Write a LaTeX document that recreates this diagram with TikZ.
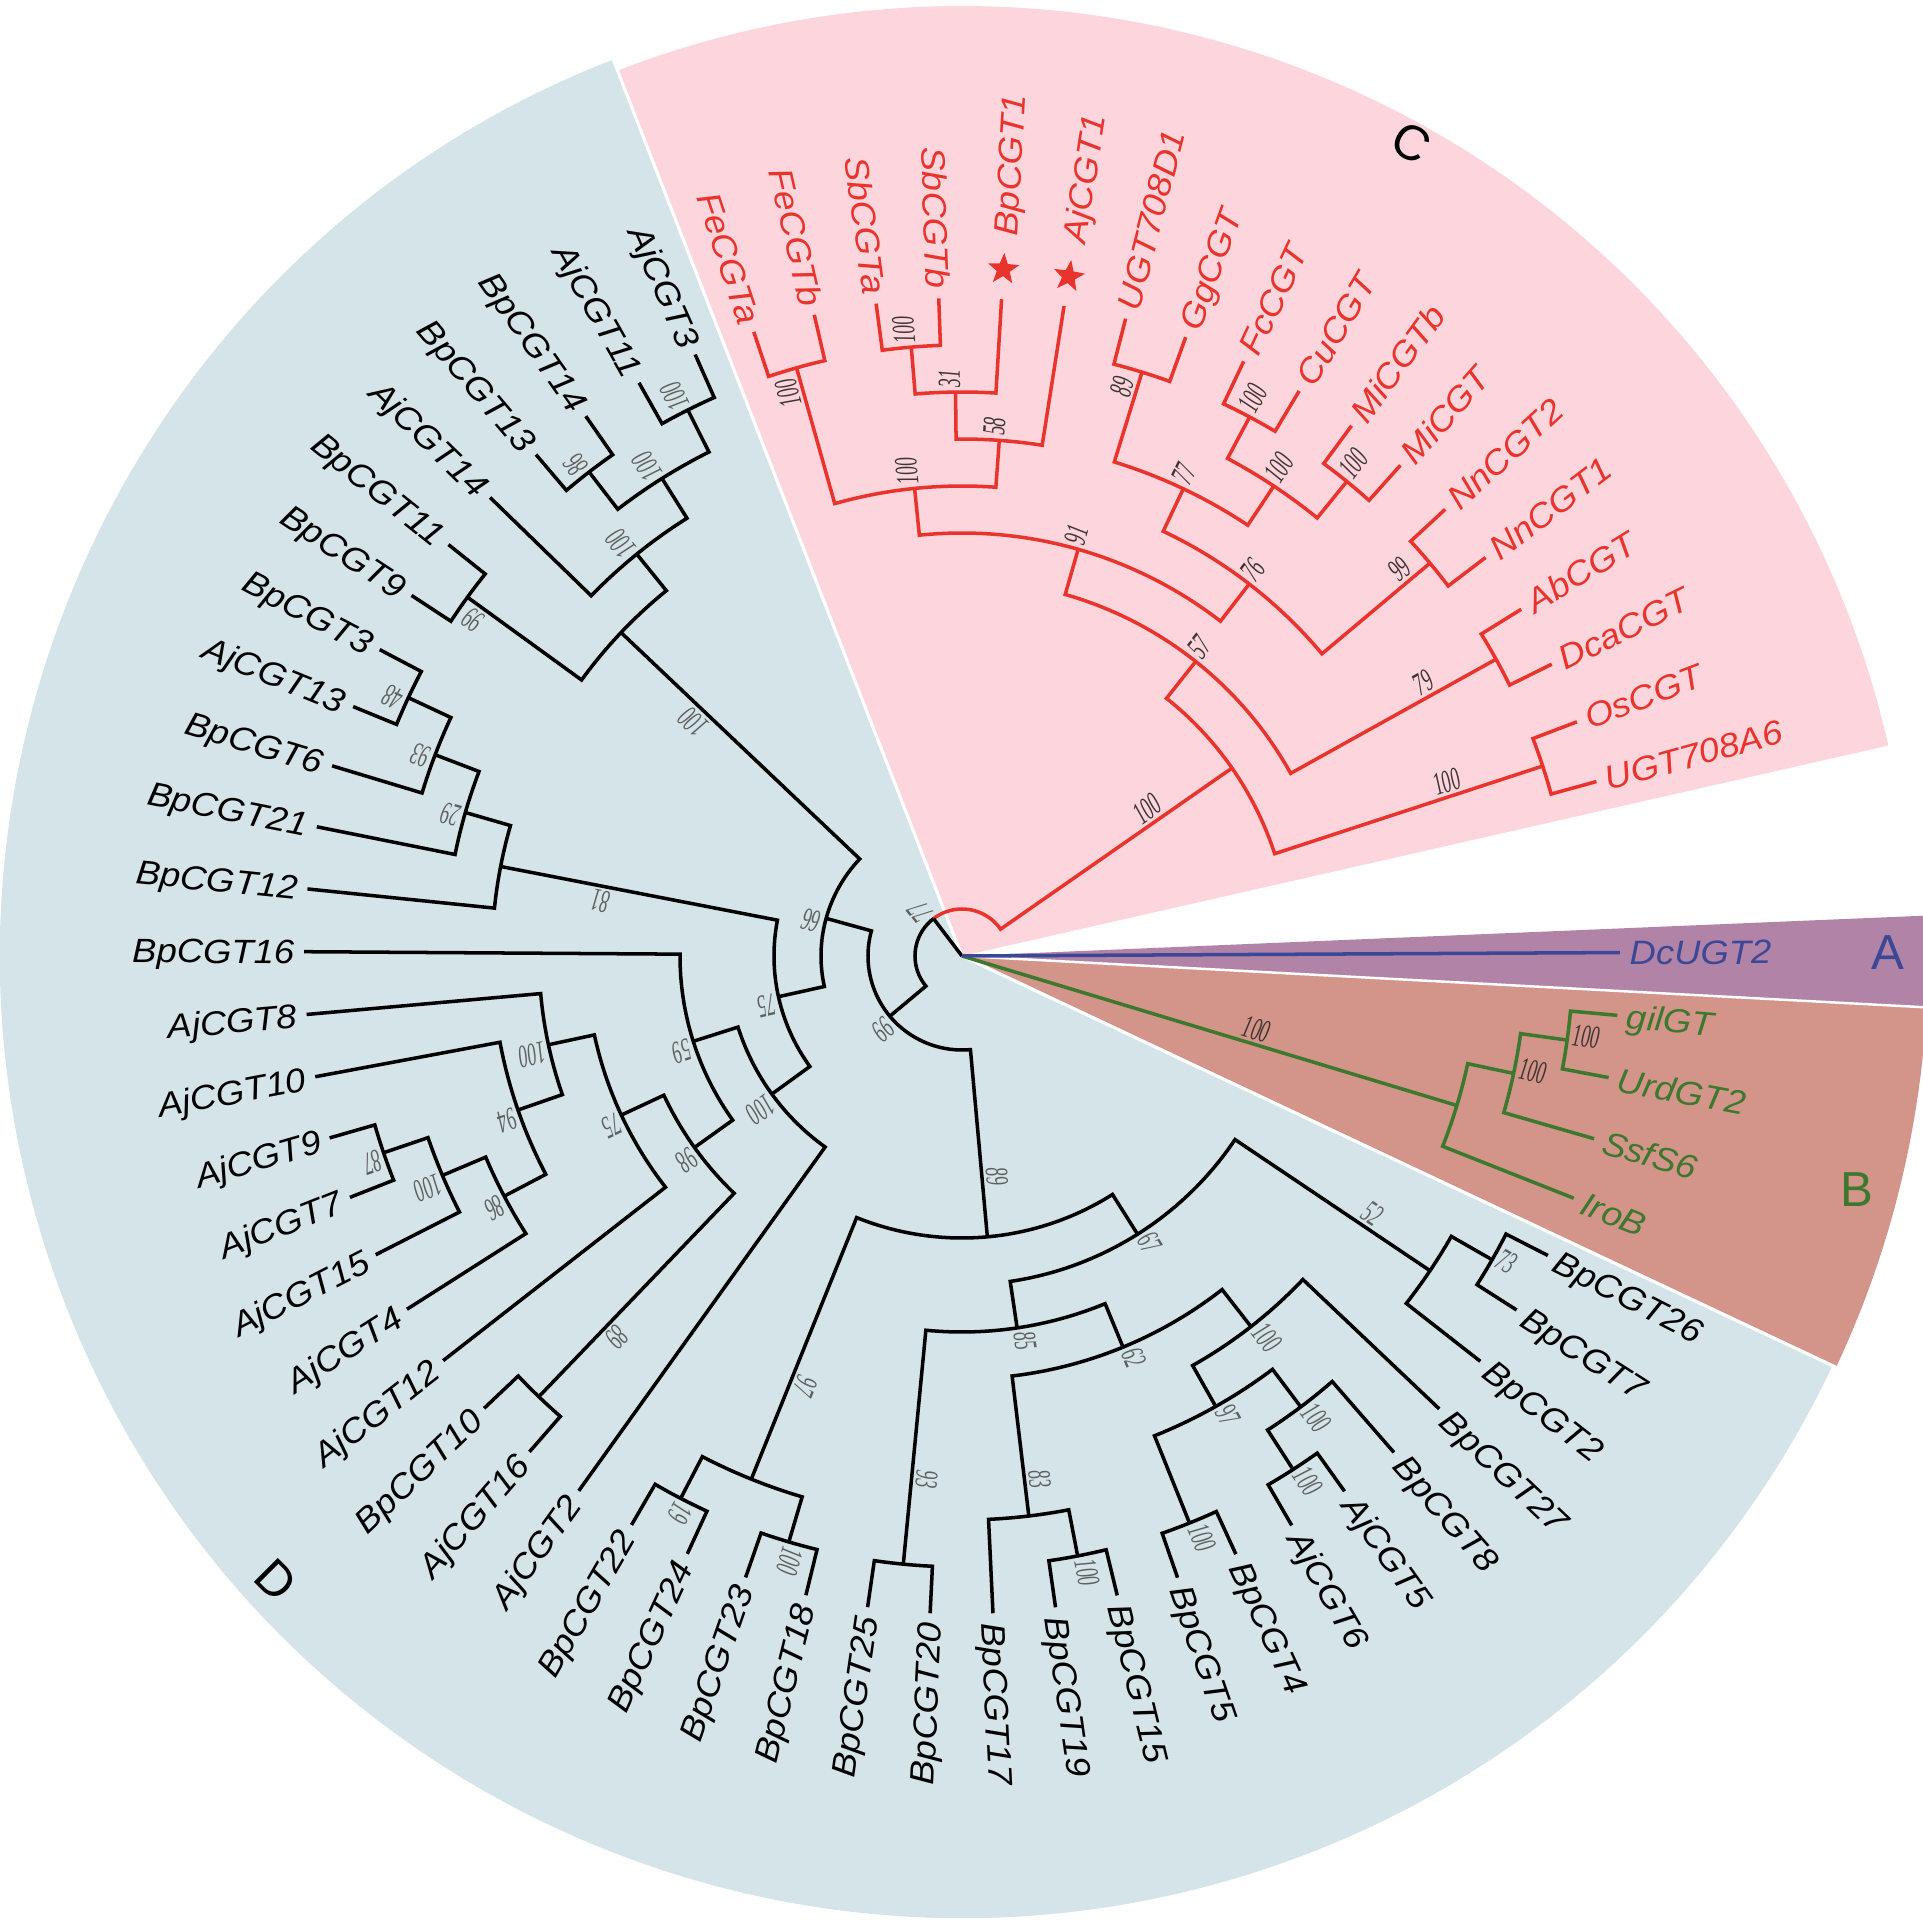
\documentclass[tikz,border=0pt]{standalone}
\usepackage{fontspec}
\setmainfont{Liberation Serif}
\setsansfont{Liberation Sans}
\usepackage{graphicx}
\usetikzlibrary{shapes.geometric}
\definecolor{bgD}{RGB}{213,228,232}
\definecolor{bgC}{RGB}{253,213,220}
\definecolor{bgA}{RGB}{177,131,166}
\definecolor{bgB}{RGB}{211,148,137}
\definecolor{cRed}{RGB}{232,52,44}
\definecolor{cBlue}{RGB}{58,72,150}
\definecolor{cGreen}{RGB}{60,120,45}
\definecolor{bootC}{RGB}{60,52,52}
\definecolor{bootD}{RGB}{95,95,95}
% leaf: name, index
\newcommand\leaf[2]{%
  \pgfmathsetmacro\qa{0.3-5.475*#2}%
  \expandafter\xdef\csname ang:#1\endcsname{\qa}%
  \expandafter\xdef\csname rad:#1\endcsname{6.58}%
  \coordinate (#1) at (\qa:6.58);}
% internal node: name, child1, child2, height, style
\newcommand\inode[5]{%
  \pgfmathsetmacro\qa{\csname ang:#2\endcsname}%
  \pgfmathsetmacro\qb{\csname ang:#3\endcsname}%
  \pgfmathsetmacro\qm{(\qa+\qb)/2}%
  \pgfmathsetmacro\qr{6.58-0.47*#4}%
  \expandafter\xdef\csname ang:#1\endcsname{\qm}%
  \expandafter\xdef\csname rad:#1\endcsname{\qr}%
  \coordinate (#1) at (\qm:\qr);%
  \coordinate (#1-a) at (\qa:\qr);%
  \coordinate (#1-b) at (\qb:\qr);%
  \draw[#5] (#2) -- (#1-a) arc[start angle=\qa, end angle=\qb, radius=\qr] -- (#3);}
% leaf label
\newcommand\lab[2][black]{%
  \pgfmathsetmacro\qa{\csname ang:#2\endcsname}%
  \pgfmathsetmacro\qn{mod(\qa+720,360)}%
  \pgfmathtruncatemacro\qleft{(\qn>90 && \qn<270) ? 1 : 0}%
  \ifnum\qleft=1
    \node[leaflab, text=#1, rotate=\qn-180, anchor=east] (L-#2) at (\qa:6.67) {\scalebox{1.08}[1]{#2}};%
  \else
    \node[leaflab, text=#1, rotate=\qn, anchor=west] (L-#2) at (\qa:6.67) {\scalebox{1.08}[1]{#2}};%
  \fi}
\newcommand\labstar[1]{%
  \pgfmathsetmacro\qa{\csname ang:#1\endcsname}%
  \node[star, star points=5, star point ratio=2.4, fill=cRed, inner sep=0pt, minimum size=0.33cm, rotate=\qa-90] (S-#1) at (\qa:6.88) {};%
  \node[leaflab, text=cRed, rotate=\qa, anchor=west] (L-#1) at (\qa:7.21) {\scalebox{1.08}[1]{#1}};}
% bootstrap outside node
\newcommand\bout[3][bootD]{%
  \pgfmathsetmacro\qa{\csname ang:#2\endcsname}%
  \pgfmathsetmacro\qr{\csname rad:#2\endcsname+0.04}%
  \path (\qa:\qr) ++(\qa+90:0.06) node[boot, text=#1, rotate=\qa, anchor=west] (bs-#2) {\scalebox{0.55}[1]{#3}};}
% bootstrap on branch
\newcommand\bbr[4][bootD]{%
  \pgfmathsetmacro\qa{\csname ang:#2\endcsname}%
  \path (\qa:#4) ++(\qa+90:0.15) node[boot, text=#1, rotate=\qa] (bs-#2) {\scalebox{0.55}[1]{#3}};}
\begin{document}
\begin{tikzpicture}[
 brD/.style={draw=black, line width=1pt},
 brC/.style={draw=cRed, line width=1pt},
 brG/.style={draw=cGreen, line width=1pt},
 brA/.style={draw=cBlue, line width=1pt},
 leaflab/.style={inner sep=0pt, text height=6.9pt, text depth=0pt, font=\fontsize{9.6}{11}\selectfont\sffamily\itshape},
 boot/.style={inner sep=0pt, text height=6pt, text depth=0pt, font=\fontsize{9.2}{10}\selectfont\itshape},
 clade/.style={font=\fontsize{14}{16}\selectfont\sffamily, inner sep=0pt}]
\useasboundingbox (-9.62,-9.66) rectangle (9.60,9.56);
\fill[white] (-9.62,-9.66) rectangle (9.60,9.56);
% sectors
\fill[bgD] (0,0) -- (111.26:9.62) arc[start angle=111.26, end angle=334.8, radius=9.62] -- cycle;
\fill[bgC] (0,0) -- (12.8:9.5) arc[start angle=12.8, end angle=111.26, radius=9.5] -- cycle;
\fill[bgA] (0,0) -- (-3.05:10) arc[start angle=-3.05, end angle=2.4, radius=10] -- cycle;
\fill[bgB] (0,0) -- (-25.2:9.66) arc[start angle=-25.2, end angle=-3.05, radius=9.66] -- cycle;
\draw[white, line width=0.9pt] (0,0) -- (111.26:9.7);
\draw[white, line width=0.9pt] (0,0) -- (-25.2:9.7);
\draw[white, line width=0.7pt] (0,0) -- (-3.05:10);
\node[clade, text=cBlue] (labA) at (0.2:9.26) {A};
\node[clade, text=cGreen] (labB) at (-14.6:9.25) {B};
\node[clade, rotate=-30] (labC) at (61.05:9.29) {C};
\node[clade, rotate=-45] (labD) at (222.3:9.28) {D};
% leaves
\coordinate (root) at (0,0);
\leaf{DcUGT2}{0}
\leaf{gilGT}{1}\leaf{UrdGT2}{2}\leaf{SsfS6}{3}\leaf{IroB}{4}
\leaf{BpCGT26}{5}\leaf{BpCGT7}{6}\leaf{BpCGT2}{7}\leaf{BpCGT27}{8}\leaf{BpCGT8}{9}
\leaf{AjCGT5}{10}\leaf{AjCGT6}{11}\leaf{BpCGT4}{12}\leaf{BpCGT5}{13}\leaf{BpCGT15}{14}
\leaf{BpCGT19}{15}\leaf{BpCGT17}{16}\leaf{BpCGT20}{17}\leaf{BpCGT25}{18}\leaf{BpCGT18}{19}
\leaf{BpCGT23}{20}\leaf{BpCGT24}{21}\leaf{BpCGT22}{22}\leaf{AjCGT2}{23}\leaf{AjCGT16}{24}
\leaf{BpCGT10}{25}\leaf{AjCGT12}{26}\leaf{AjCGT4}{27}\leaf{AjCGT15}{28}\leaf{AjCGT7}{29}
\leaf{AjCGT9}{30}\leaf{AjCGT10}{31}\leaf{AjCGT8}{32}\leaf{BpCGT16}{33}\leaf{BpCGT12}{34}
\leaf{BpCGT21}{35}\leaf{BpCGT6}{36}\leaf{AjCGT13}{37}\leaf{BpCGT3}{38}\leaf{BpCGT9}{39}
\leaf{BpCGT11}{40}\leaf{AjCGT14}{41}\leaf{BpCGT13}{42}\leaf{BpCGT14}{43}\leaf{AjCGT11}{44}
\leaf{AjCGT3}{45}
\leaf{FeCGTa}{46}\leaf{FeCGTb}{47}\leaf{SbCGTa}{48}\leaf{SbCGTb}{49}\leaf{BpCGT1}{50}
\leaf{AjCGT1}{51}\leaf{UGT708D1}{52}\leaf{GgCGT}{53}\leaf{FcCGT}{54}\leaf{CuCGT}{55}
\leaf{MiCGTb}{56}\leaf{MiCGT}{57}\leaf{NnCGT2}{58}\leaf{NnCGT1}{59}\leaf{AbCGT}{60}
\leaf{DcaCGT}{61}\leaf{OsCGT}{62}\leaf{UGT708A6}{63}
% clade B
\inode{B2}{gilGT}{UrdGT2}{1}{brG}
\inode{B1}{B2}{SsfS6}{2}{brG}
\inode{B0}{B1}{IroB}{3}{brG}
% clade C
\inode{cFe}{FeCGTa}{FeCGTb}{1}{brC}
\inode{cSb}{SbCGTa}{SbCGTb}{1}{brC}
\inode{c31}{cSb}{BpCGT1}{2}{brC}
\inode{c58}{c31}{AjCGT1}{3}{brC}
\inode{c100a}{cFe}{c58}{4}{brC}
\inode{c89}{UGT708D1}{GgCGT}{1}{brC}
\inode{cFc}{FcCGT}{CuCGT}{1}{brC}
\inode{cMi}{MiCGTb}{MiCGT}{1}{brC}
\inode{cFM}{cFc}{cMi}{2}{brC}
\inode{c77}{c89}{cFM}{3}{brC}
\inode{cNn}{NnCGT2}{NnCGT1}{1}{brC}
\inode{c76}{c77}{cNn}{4}{brC}
\inode{c91}{c100a}{c76}{5}{brC}
\inode{cAb}{AbCGT}{DcaCGT}{1}{brC}
\inode{c57}{c91}{cAb}{6}{brC}
\inode{cOs}{OsCGT}{UGT708A6}{1}{brC}
\inode{cRoot}{c57}{cOs}{7}{brC}
% clade D
\inode{dA}{AjCGT11}{AjCGT3}{1}{brD}
\inode{dB}{BpCGT13}{BpCGT14}{1}{brD}
\inode{dC}{dA}{dB}{2}{brD}
\inode{dD}{dC}{AjCGT14}{3}{brD}
\inode{dE}{BpCGT11}{BpCGT9}{1}{brD}
\inode{dF}{dD}{dE}{4}{brD}
\inode{dG}{AjCGT13}{BpCGT3}{1}{brD}
\inode{dH}{BpCGT6}{dG}{2}{brD}
\inode{dI}{BpCGT21}{dH}{3}{brD}
\inode{dJ}{BpCGT12}{dI}{4}{brD}
\inode{dK}{AjCGT9}{AjCGT7}{1}{brD}
\inode{dL}{dK}{AjCGT15}{2}{brD}
\inode{dM}{dL}{AjCGT4}{3}{brD}
\inode{dN}{AjCGT10}{dM}{4}{brD}
\inode{dO}{AjCGT8}{dN}{5}{brD}
\inode{dP}{dO}{AjCGT12}{6}{brD}
\inode{dQ}{BpCGT10}{AjCGT16}{1}{brD}
\inode{dR}{dP}{dQ}{7}{brD}
\inode{dS}{BpCGT16}{dR}{8}{brD}
\inode{dT}{dS}{AjCGT2}{9}{brD}
\inode{dU}{dJ}{dT}{10}{brD}
\inode{dV}{dF}{dU}{11}{brD}
\inode{dW}{BpCGT22}{BpCGT24}{1}{brD}
\inode{dX}{BpCGT23}{BpCGT18}{1}{brD}
\inode{dY}{dW}{dX}{2}{brD}
\inode{dZ}{BpCGT25}{BpCGT20}{1}{brD}
\inode{eA}{BpCGT19}{BpCGT15}{1}{brD}
\inode{eB}{BpCGT17}{eA}{2}{brD}
\inode{eC}{BpCGT5}{BpCGT4}{1}{brD}
\inode{eD}{AjCGT6}{AjCGT5}{1}{brD}
\inode{eE}{eD}{BpCGT8}{2}{brD}
\inode{eF}{eC}{eE}{3}{brD}
\inode{eG}{eF}{BpCGT27}{4}{brD}
\inode{eH}{eB}{eG}{5}{brD}
\inode{eI}{dZ}{eH}{6}{brD}
\inode{eJ}{BpCGT7}{BpCGT26}{1}{brD}
\inode{eK}{BpCGT2}{eJ}{2}{brD}
\inode{eL}{eI}{eK}{7}{brD}
\inode{eM}{dY}{eL}{8}{brD}
\inode{dRoot}{dV}{eM}{12}{brD}
% node joining C and D
\pgfmathsetmacro\qa{\csname ang:cRoot\endcsname}
\pgfmathsetmacro\qb{\csname ang:dRoot\endcsname}
\pgfmathsetmacro\qm{(\qa+\qb)/2}
\expandafter\xdef\csname ang:n77\endcsname{\qm}
\expandafter\xdef\csname rad:n77\endcsname{0.47}
\coordinate (n77) at (\qm:0.47);
\draw[brC] (n77) arc[start angle=\qm, end angle=\qa, radius=0.47] -- (cRoot);
\draw[brD] (n77) arc[start angle=\qm, end angle=\qb, radius=0.47] -- (dRoot);
% root
\draw[brD] (root) -- (n77);
\draw[brG] (root) -- (B0);
\draw[brA] (root) -- (DcUGT2);
% leaf labels
\lab[cBlue]{DcUGT2}
\lab[cGreen]{gilGT}\lab[cGreen]{UrdGT2}\lab[cGreen]{SsfS6}\lab[cGreen]{IroB}
\lab{BpCGT26}\lab{BpCGT7}\lab{BpCGT2}\lab{BpCGT27}\lab{BpCGT8}
\lab{AjCGT5}\lab{AjCGT6}\lab{BpCGT4}\lab{BpCGT5}\lab{BpCGT15}
\lab{BpCGT19}\lab{BpCGT17}\lab{BpCGT20}\lab{BpCGT25}\lab{BpCGT18}
\lab{BpCGT23}\lab{BpCGT24}\lab{BpCGT22}\lab{AjCGT2}\lab{AjCGT16}
\lab{BpCGT10}\lab{AjCGT12}\lab{AjCGT4}\lab{AjCGT15}\lab{AjCGT7}
\lab{AjCGT9}\lab{AjCGT10}\lab{AjCGT8}\lab{BpCGT16}\lab{BpCGT12}
\lab{BpCGT21}\lab{BpCGT6}\lab{AjCGT13}\lab{BpCGT3}\lab{BpCGT9}
\lab{BpCGT11}\lab{AjCGT14}\lab{BpCGT13}\lab{BpCGT14}\lab{AjCGT11}
\lab{AjCGT3}
\lab[cRed]{FeCGTa}\lab[cRed]{FeCGTb}\lab[cRed]{SbCGTa}\lab[cRed]{SbCGTb}
\labstar{BpCGT1}\labstar{AjCGT1}
\lab[cRed]{UGT708D1}\lab[cRed]{GgCGT}\lab[cRed]{FcCGT}\lab[cRed]{CuCGT}
\lab[cRed]{MiCGTb}\lab[cRed]{MiCGT}\lab[cRed]{NnCGT2}\lab[cRed]{NnCGT1}
\lab[cRed]{AbCGT}\lab[cRed]{DcaCGT}\lab[cRed]{OsCGT}\lab[cRed]{UGT708A6}
% bootstrap values C
\bbr[bootC]{cFe}{100}{5.89}
\bout[bootC]{cSb}{100}
\bout[bootC]{c31}{31}
\bout[bootC]{c58}{58}
\bout[bootC]{c100a}{100}
\bbr[bootC]{c89}{89}{5.91}
\bout[bootC]{cFc}{100}
\bout[bootC]{cMi}{100}
\bout[bootC]{cFM}{100}
\bout[bootC]{c77}{77}
\bbr[bootC]{cNn}{99}{5.84}
\bout[bootC]{c76}{76}
\bout[bootC]{c91}{91}
\bbr[bootC]{cAb}{79}{5.36}
\bout[bootC]{c57}{57}
\bbr[bootC]{cOs}{100}{5.15}
\bbr[bootC]{cRoot}{100}{2.36}
% B
\bbr[bootC]{B0}{100}{3.03}
\bout[bootC]{B1}{100}
\bout[bootC]{B2}{100}
% D
\bout{dA}{100}
\bout{dB}{86}
\bout{dC}{100}
\bout{dD}{100}
\bbr{dE}{99}{5.93}
\bbr{dF}{100}{3.56}
\bout{dG}{48}
\bout{dH}{93}
\bout{dI}{29}
\bbr{dJ}{81}{3.655}
\bout{dK}{87}
\bout{dL}{100}
\bout{dM}{86}
\bout{dN}{94}
\bout{dO}{100}
\bout{dP}{75}
\bbr{dQ}{89}{5.14}
\bout{dR}{98}
\bout{dS}{59}
\bout{dT}{100}
\bout{dU}{75}
\bout{dV}{66}
\bout{dW}{19}
\bout{dX}{100}
\bbr{dY}{97}{4.575}
\bbr{dZ}{93}{5.245}
\bout{eA}{100}
\bbr{eB}{83}{5.287}
\bout{eC}{100}
\bout{eD}{100}
\bout{eE}{100}
\bout{eF}{97}
\bout{eG}{100}
\bout{eH}{62}
\bout{eI}{85}
\bout{eJ}{73}
\bbr{eK}{52}{4.85}
\bout{eL}{67}
\bbr{eM}{89}{2.23}
\bout{dRoot}{99}
\bout{n77}{77}
\end{tikzpicture}
\end{document}
